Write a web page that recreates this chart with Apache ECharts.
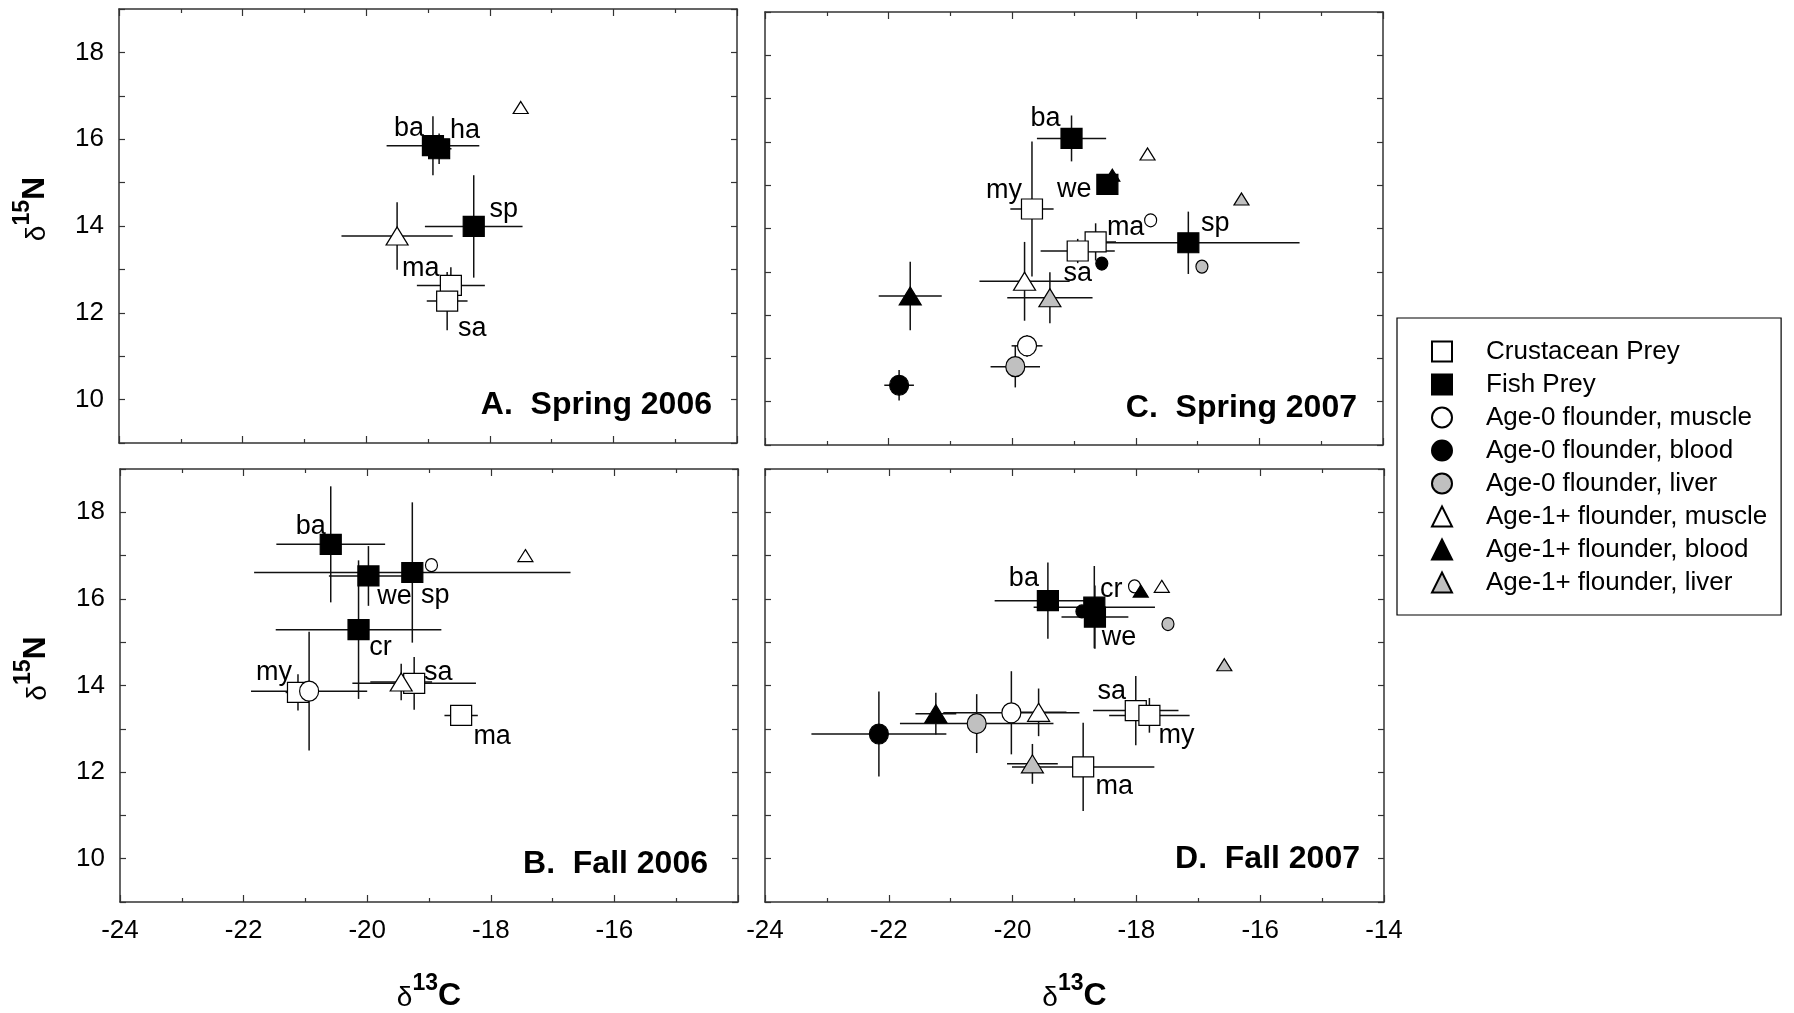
<!DOCTYPE html>
<html>
<head>
<meta charset="utf-8">
<title>d13C / d15N biplots</title>
<script src="https://cdn.jsdelivr.net/npm/echarts@6/dist/echarts.min.js"></script>
<style>
  html, body { margin: 0; padding: 0; background: #fff; }
  #chart { width: 1794px; height: 1013px; }
</style>
</head>
<body>
<div id="chart"></div>
<script>
  // legend groups, the first number of every row below points in here
  const groups = [
    'Crustacean Prey',
    'Fish Prey',
    'Age-0 flounder, muscle',
    'Age-0 flounder, blood',
    'Age-0 flounder, liver',
    'Age-1+ flounder, muscle',
    'Age-1+ flounder, blood',
    'Age-1+ flounder, liver'
  ];

  const xRange = [-24, -14];
  const yRange = [9, 19];

  // rows: [group, d13C, d15N, sd13C, sd15N, label]
  // rows without sd are the small markers
  const spring2006 = [
    [5, -19.50, 13.77, 0.90, 0.78, ''],
    [5, -17.50, 16.73, null, null, ''],
    [0, -18.63, 12.63, 0.55, 0.42, 'ma'],
    [0, -18.69, 12.27, 0.33, 0.67, 'sa'],
    [1, -18.92, 15.85, 0.75, 0.68, 'ba'],
    [1, -18.82, 15.78, 0.20, 0.35, 'ha'],
    [1, -18.26, 13.99, 0.79, 1.18, 'sp']
  ];

  const fall2006 = [
    [0, -21.12, 13.84, 0.20, 0.42, 'my'],
    [0, -19.24, 14.05, 1.00, 0.61, 'sa'],
    [0, -18.48, 13.31, 0.27, 0.10, 'ma'],
    [1, -20.59, 17.26, 0.88, 1.34, 'ba'],
    [1, -19.98, 16.53, 0.64, 0.69, 'we'],
    [1, -19.27, 16.61, 2.56, 1.62, 'sp'],
    [1, -20.14, 15.29, 1.34, 1.60, 'cr'],
    [2, -20.94, 13.87, 0.94, 1.37, ''],
    [2, -18.96, 16.78, null, null, ''],
    [5, -19.45, 14.08, 0.50, 0.42, ''],
    [5, -17.44, 17.00, null, null, '']
  ];

  const spring2007 = [
    [0, -19.68, 14.45, 0.35, 1.56, 'my'],
    [0, -18.65, 13.69, 0.33, 0.43, 'ma'],
    [0, -18.94, 13.48, 0.60, 0.28, 'sa'],
    [1, -19.04, 16.08, 0.56, 0.53, 'ba'],
    [1, -18.46, 15.02, 0.10, 0.22, 'we'],
    [1, -17.15, 13.67, 1.80, 0.72, 'sp'],
    [2, -19.76, 11.29, 0.25, 0.25, ''],
    [2, -17.76, 14.19, null, null, ''],
    [3, -21.83, 10.38, 0.24, 0.35, ''],
    [3, -18.55, 13.19, null, null, ''],
    [4, -19.95, 10.81, 0.40, 0.48, ''],
    [4, -16.93, 13.12, null, null, ''],
    [5, -19.80, 12.78, 0.73, 0.91, ''],
    [5, -17.81, 15.72, null, null, ''],
    [6, -21.65, 12.44, 0.51, 0.79, ''],
    [6, -18.38, 15.23, null, null, ''],
    [7, -19.39, 12.40, 0.69, 0.59, ''],
    [7, -16.29, 14.68, null, null, '']
  ];

  const fall2007 = [
    [0, -18.01, 13.42, 0.69, 0.80, 'sa'],
    [0, -17.79, 13.31, 0.65, 0.40, 'my'],
    [0, -18.86, 12.12, 1.15, 1.02, 'ma'],
    [1, -19.43, 15.96, 0.86, 0.88, 'ba'],
    [1, -18.68, 15.81, 0.98, 0.95, 'cr'],
    [1, -18.67, 15.58, 0.54, 0.73, 'we'],
    [2, -20.02, 13.37, 1.10, 0.96, ''],
    [2, -18.03, 16.29, null, null, ''],
    [3, -22.16, 12.88, 1.09, 0.98, ''],
    [3, -18.88, 15.71, null, null, ''],
    [4, -20.58, 13.12, 1.24, 0.68, ''],
    [4, -17.49, 15.42, null, null, ''],
    [5, -19.58, 13.38, 0.45, 0.55, ''],
    [5, -17.59, 16.29, null, null, ''],
    [6, -21.24, 13.35, 0.33, 0.48, ''],
    [6, -17.93, 16.18, null, null, ''],
    [7, -19.68, 12.19, 0.41, 0.46, ''],
    [7, -16.58, 14.48, null, null, '']
  ];

  const FONT = "'Liberation Sans', Arial, sans-serif";

  const groupStyle = [
    { symbol: 'rect', color: '#fff' },
    { symbol: 'rect', color: '#000' },
    { symbol: 'circle', color: '#fff' },
    { symbol: 'circle', color: '#000' },
    { symbol: 'circle', color: '#c0c0c0' },
    { symbol: 'triangle', color: '#fff' },
    { symbol: 'triangle', color: '#000' },
    { symbol: 'triangle', color: '#c0c0c0' }
  ];
  const bigSize = { rect: [21, 20], circle: [19, 20], triangle: [22, 18] };
  const smallSize = { rect: [13, 13], circle: [12, 13], triangle: [15, 12] };

  // grids and the pixel offsets of the point names
  const panels = [
    {
      rows: spring2006, title: 'A.  Spring 2006',
      grid: { left: 119, top: 9, width: 618, height: 434 },
      titleRight: 1082, titleTop: 389, xLabels: false, yLabels: true, preyOnTop: false,
      offsets: { ba: [-24, -17], ha: [26, -18], sp: [30, -17], ma: [-30, -17], sa: [25, 27] }
    },
    {
      rows: spring2007, title: 'C.  Spring 2007',
      grid: { left: 765, top: 12, width: 618, height: 433 },
      titleRight: 437, titleTop: 392, xLabels: false, yLabels: false, preyOnTop: false,
      offsets: { ba: [-26, -20], my: [-28, -18], we: [-33, 5], ma: [30, -14], sa: [0, 23], sp: [27, -19] }
    },
    {
      rows: fall2006, title: 'B.  Fall 2006',
      grid: { left: 120, top: 469, width: 618, height: 433 },
      titleRight: 1086, titleTop: 848, xLabels: true, yLabels: true, preyOnTop: false,
      offsets: { ba: [-20, -18], we: [26, 21], sp: [23, 23], cr: [22, 18], my: [-24, -20], sa: [24, -11], ma: [31, 21] }
    },
    {
      rows: fall2007, title: 'D.  Fall 2007',
      grid: { left: 765, top: 469, width: 619, height: 433 },
      titleRight: 434, titleTop: 843, xLabels: true, yLabels: false, preyOnTop: true,
      offsets: { ba: [-24, -22], cr: [17, -18], we: [24, 20], sa: [-24, -19], my: [27, 20], ma: [31, 20] }
    }
  ];

  const axisLine = { lineStyle: { color: '#333', width: 1.5 } };

  const titleRich = {
    d: { fontSize: 28, fontFamily: FONT, color: '#000', verticalAlign: 'bottom' },
    s: { fontSize: 23, fontWeight: 'bold', fontFamily: FONT, color: '#000', verticalAlign: 'top', lineHeight: 40 },
    c: { fontSize: 32, fontWeight: 'bold', fontFamily: FONT, color: '#000', verticalAlign: 'bottom' }
  };

  function xAxisFor(i, p, pos) {
    const bottom = pos === 'bottom';
    return {
      type: 'value', gridIndex: i, position: pos,
      min: xRange[0], max: xRange[1], interval: 2,
      axisLine: axisLine,
      axisTick: { inside: true, length: 7, lineStyle: { color: '#333', width: 1.2 } },
      minorTick: { show: true, splitNumber: 2, length: 4, lineStyle: { color: '#333', width: 1.2 } },
      splitLine: { show: false },
      axisLabel: {
        show: bottom && p.xLabels, margin: 16, fontSize: 26, color: '#000', fontFamily: FONT,
        formatter: v => (i === 2 && v === -14) ? '' : String(v)
      },
      name: bottom && p.xLabels ? '{d|δ}{s|13}{c|C}' : '',
      nameLocation: 'middle', nameGap: 70,
      nameTextStyle: { rich: titleRich }
    };
  }

  function yAxisFor(i, p, pos) {
    const left = pos === 'left';
    return {
      type: 'value', gridIndex: i, position: pos,
      min: yRange[0], max: yRange[1], interval: 1,
      axisLine: axisLine,
      axisTick: { inside: true, length: 6, lineStyle: { color: '#333', width: 1.2 } },
      splitLine: { show: false },
      axisLabel: {
        show: left && p.yLabels, margin: 15, fontSize: 26, color: '#000', fontFamily: FONT,
        formatter: v => (v % 2 === 0 && v > yRange[0] && v < yRange[1]) ? String(v) : ''
      },
      name: left && p.yLabels ? '{d|δ}{s|15}{c|N}' : '',
      nameLocation: 'middle', nameGap: 68, nameRotate: 90,
      nameTextStyle: { padding: [0, 0, 0, 34], rich: titleRich }
    };
  }

  function renderErrorBar(params, api) {
    const x = api.value(0), y = api.value(1), ex = api.value(2), ey = api.value(3);
    const c = api.coord([x, y]);
    const l = api.coord([x - ex, y]), r = api.coord([x + ex, y]);
    const t = api.coord([x, y + ey]), b = api.coord([x, y - ey]);
    const style = { stroke: '#111', lineWidth: 1.5 };
    return {
      type: 'group',
      children: [
        { type: 'line', shape: { x1: l[0], y1: c[1], x2: r[0], y2: c[1] }, style: style },
        { type: 'line', shape: { x1: c[0], y1: t[1], x2: c[0], y2: b[1] }, style: style }
      ]
    };
  }

  const grids = [], xAxes = [], yAxes = [], series = [], titles = [];

  panels.forEach((p, i) => {
    grids.push(Object.assign({ outerBoundsMode: 'none', containLabel: false }, p.grid));
    xAxes.push(xAxisFor(i, p, 'bottom'), xAxisFor(i, p, 'top'));
    yAxes.push(yAxisFor(i, p, 'left'), yAxisFor(i, p, 'right'));

    titles.push({
      text: p.title, right: p.titleRight, top: p.titleTop, padding: 0,
      textStyle: { fontSize: 32, fontWeight: 'bold', color: '#000', fontFamily: FONT }
    });

    series.push({
      type: 'custom', name: 'sd', xAxisIndex: i * 2, yAxisIndex: i * 2,
      silent: true, z: 2,
      encode: { x: 0, y: 1 },
      data: p.rows.filter(r => r[3] != null).map(r => [r[1], r[2], r[3], r[4]]),
      renderItem: renderErrorBar
    });

    groups.forEach((name, g) => {
      const rows = p.rows.filter(r => r[0] === g);
      if (!rows.length) return;
      const st = groupStyle[g];
      const isPrey = g < 2;
      series.push({
        type: 'scatter', name: name, xAxisIndex: i * 2, yAxisIndex: i * 2,
        symbol: st.symbol,
        z: p.preyOnTop && isPrey ? 4 : 3,
        itemStyle: { color: st.color, borderColor: '#000', borderWidth: 1.2, opacity: 1 },
        emphasis: { disabled: true },
        data: rows.map(r => {
          const item = {
            value: [r[1], r[2]],
            symbolSize: r[3] == null ? smallSize[st.symbol] : bigSize[st.symbol]
          };
          if (r[5]) {
            item.label = {
              show: true, formatter: r[5], position: 'inside',
              offset: p.offsets[r[5]], color: '#000', fontSize: 27, fontFamily: FONT
            };
          }
          return item;
        })
      });
    });
  });

  const chart = echarts.init(document.getElementById('chart'));
  chart.setOption({
    backgroundColor: '#fff',
    animation: false,
    title: titles,
    grid: grids,
    xAxis: xAxes,
    yAxis: yAxes,
    legend: {
      data: groups,
      orient: 'vertical',
      left: 1397, top: 318,
      padding: [17, 14, 16, 34],
      itemWidth: 20, itemHeight: 20, itemGap: 0,
      selectedMode: false,
      borderColor: '#000', borderWidth: 1.2,
      textStyle: { fontSize: 26, lineHeight: 33, color: '#000', fontFamily: FONT, padding: [0, 0, 0, 29] }
    },
    series: series
  });
</script>
</body>
</html>
